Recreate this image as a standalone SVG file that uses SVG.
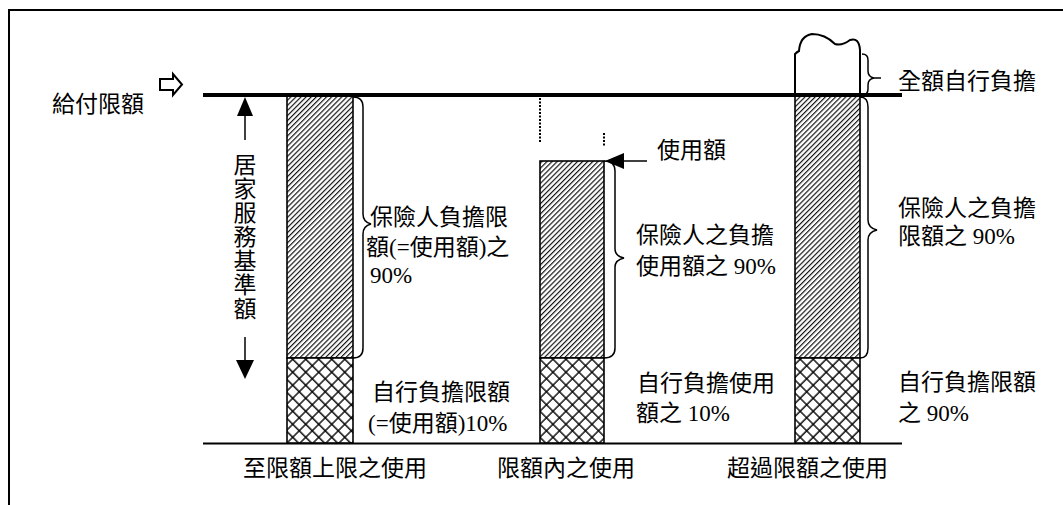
<svg xmlns="http://www.w3.org/2000/svg" width="1063" height="505" viewBox="0 0 1063 505">
<style>
.t{font-family:"Liberation Serif","Noto Sans CJK TC",serif;font-size:23px;fill:#000}
.ln{stroke:#000;fill:none}
.bar{stroke:#000;stroke-width:1.6}
</style>
<defs>
<pattern id="hatch" width="3.6" height="10" patternUnits="userSpaceOnUse" patternTransform="rotate(45)">
<rect width="3.6" height="10" fill="#fff"/>
<line x1="0.6" y1="0" x2="0.6" y2="10" stroke="#000" stroke-width="1.1"/>
</pattern>
<pattern id="cross" width="9.2" height="9.2" patternUnits="userSpaceOnUse" patternTransform="rotate(45)">
<rect width="9.2" height="9.2" fill="#fff"/>
<line x1="1" y1="0" x2="1" y2="9.2" stroke="#000" stroke-width="1.4"/>
<line x1="0" y1="1" x2="9.2" y2="1" stroke="#000" stroke-width="1.4"/>
</pattern>
</defs>
<rect width="1063" height="505" fill="#fff"/>
<g id="frame">
<path class="ln" d="M9,505 L9,10 L1063,10" stroke-width="2"/>
</g>
<g id="baseline-axis">
<line class="ln" x1="203" y1="443.5" x2="902" y2="443.5" stroke-width="2"/>
</g>
<g id="bar1">
<rect class="bar" x="287" y="96" width="66" height="262" fill="url(#hatch)"/>
<rect class="bar" x="287" y="358" width="66" height="85" fill="url(#cross)"/>
</g>
<g id="bar2">
<line class="ln" x1="540" y1="98" x2="540" y2="143" stroke-width="2" stroke-dasharray="2,1.5"/>
<line class="ln" x1="604" y1="133" x2="604" y2="146" stroke-width="2" stroke-dasharray="2,1.5"/>
<rect class="bar" x="540" y="161" width="64" height="197" fill="url(#hatch)"/>
<rect class="bar" x="540" y="358" width="64" height="85" fill="url(#cross)"/>
</g>
<g id="bar3">
<path class="ln" d="M795,95 L795,54 Q797,52 799,51 Q800,36 812,34 Q825,34 835,44 Q842,46 850,40 Q859,37 860,50 L860,95" stroke-width="2" fill="#fff"/>
<rect class="bar" x="795" y="96" width="65" height="262" fill="url(#hatch)"/>
<rect class="bar" x="795" y="358" width="65" height="85" fill="url(#cross)"/>
</g>
<g id="limit-line">
<line class="ln" x1="203" y1="95" x2="902" y2="95" stroke-width="4"/>
<path class="ln" d="M160,79 L173,79 L173,74 L182,84.5 L173,95 L173,90 L160,90 Z" stroke-width="2" fill="#fff"/>
<text class="t" x="52" y="112">給付限額</text>
</g>
<g id="connectors">
<line class="ln" x1="245" y1="114" x2="245" y2="140" stroke-width="1.5"/>
<polygon points="245,97 237,116 253,116" fill="#000"/>
<line class="ln" x1="245" y1="337" x2="245" y2="362" stroke-width="1.5"/>
<polygon points="245,379 236,360 254,360" fill="#000"/>
<line class="ln" x1="620" y1="161" x2="647" y2="161" stroke-width="1.5"/>
<polygon points="605,161 624,153 624,169" fill="#000"/>
<path class="ln" stroke-width="1.5" d="M353,97 Q363,97 363,107 L363,214 Q363,222 371,224 Q363,226 363,234 L363,348 Q363,358 353,358"/>
<path class="ln" stroke-width="1.5" d="M604,161 Q615,161 615,171 L615,249 Q615,256 624,258 Q615,260 615,267 L615,348 Q615,358 604,358"/>
<path class="ln" stroke-width="1.5" d="M860,97 Q868,97 868,107 L868,220 Q868,228 877,230 Q868,232 868,240 L868,348 Q868,358 860,358"/>
<path class="ln" stroke-width="1.5" d="M862,54 Q868,54 868,60 L868,71 Q868,77 874,78 Q868,79 868,85 L868,89 Q868,95 862,95 M874,78 L881,78"/>
</g>
<g id="base-label">
<text class="t" x="245" y="173" text-anchor="middle">居</text>
<text class="t" x="245" y="197" text-anchor="middle">家</text>
<text class="t" x="245" y="221" text-anchor="middle">服</text>
<text class="t" x="245" y="245" text-anchor="middle">務</text>
<text class="t" x="245" y="269" text-anchor="middle">基</text>
<text class="t" x="245" y="293" text-anchor="middle">準</text>
<text class="t" x="245" y="317" text-anchor="middle">額</text>
</g>
<g id="labels-bar1">
<text class="t" x="370" y="225">保險人負擔限</text>
<text class="t" x="366" y="255">額(=使用額)之</text>
<text class="t" x="370" y="283">90%</text>
<text class="t" x="372" y="400">自行負擔限額</text>
<text class="t" x="368" y="431">(=使用額)10%</text>
<text class="t" x="243" y="476">至限額上限之使用</text>
</g>
<g id="labels-bar2">
<text class="t" x="657" y="158">使用額</text>
<text class="t" x="636" y="243">保險人之負擔</text>
<text class="t" x="636" y="274">使用額之 90%</text>
<text class="t" x="637" y="391">自行負擔使用</text>
<text class="t" x="636" y="421">額之 10%</text>
<text class="t" x="497" y="476">限額內之使用</text>
</g>
<g id="labels-bar3">
<text class="t" x="898" y="89">全額自行負擔</text>
<text class="t" x="898" y="216">保險人之負擔</text>
<text class="t" x="898" y="244">限額之 90%</text>
<text class="t" x="898" y="390">自行負擔限額</text>
<text class="t" x="898" y="421">之 90%</text>
<text class="t" x="727" y="476">超過限額之使用</text>
</g>
</svg>
